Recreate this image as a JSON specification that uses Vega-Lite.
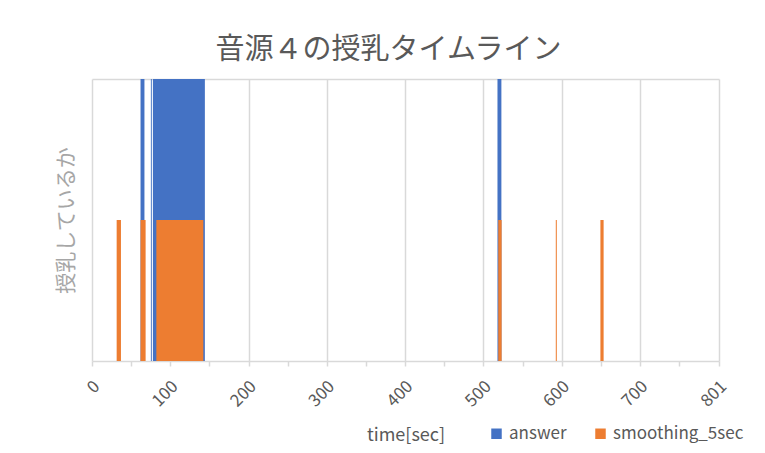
{
  "$schema": "https://vega.github.io/schema/vega-lite/v6.json",
  "width": 627,
  "height": 282,
  "autosize": {"type": "none"},
  "padding": {"left": 92, "top": 79, "right": 46, "bottom": 92},
  "background": "white",
  "config": {
    "font": "Noto Sans CJK JP",
    "view": {"stroke": null},
    "axis": {"labelFont": "Noto Sans CJK JP", "titleFont": "Noto Sans CJK JP"},
    "legend": {"labelFont": "Noto Sans CJK JP"}
  },
  "title": {
    "text": "音源４の授乳タイムライン",
    "fontSize": 29,
    "fontWeight": "normal",
    "color": "#595959",
    "anchor": "middle",
    "dx": -17,
    "offset": 14
  },
  "data": {
    "values": [
      {"series": "answer", "start": 62, "end": 67, "value": 1},
      {"series": "answer", "start": 75.2, "end": 76.4, "value": 1},
      {"series": "answer", "start": 77.8, "end": 144.2, "value": 1},
      {"series": "answer", "start": 518, "end": 523, "value": 1},
      {"series": "smoothing_5sec", "start": 31.5, "end": 37, "value": 0.5},
      {"series": "smoothing_5sec", "start": 62, "end": 68.5, "value": 0.5},
      {"series": "smoothing_5sec", "start": 82.2, "end": 142.2, "value": 0.5},
      {"series": "smoothing_5sec", "start": 519, "end": 523.3, "value": 0.5},
      {"series": "smoothing_5sec", "start": 592.5, "end": 593.8, "value": 0.5},
      {"series": "smoothing_5sec", "start": 649.5, "end": 653.6, "value": 0.5}
    ]
  },
  "mark": {"type": "rect", "stroke": null},
  "encoding": {
    "x": {
      "field": "start",
      "type": "quantitative",
      "scale": {"domain": [0, 801], "nice": false, "zero": false},
      "axis": {
        "title": "time[sec]",
        "titleFontSize": 18,
        "titleFontWeight": "normal",
        "titleColor": "#595959",
        "titleY": 79,
        "titleBaseline": "alphabetic",
        "values": [0, 50, 100, 150, 200, 250, 300, 350, 400, 450, 500, 550, 600, 650, 700, 750, 801],
        "labelExpr": "datum.value % 100 === 0 || datum.value === 801 ? datum.label : ''",
        "labelAngle": -45,
        "labelFontSize": 17,
        "labelColor": "#595959",
        "labelPadding": 12,
        "labelOffset": -1,
        "labelOverlap": false,
        "labelFlush": false,
        "format": "d",
        "domainColor": "#d9d9d9",
        "domainWidth": 1.5,
        "tickColor": "#d9d9d9",
        "tickWidth": 1.5,
        "tickSize": 5,
        "grid": true,
        "gridColor": "#d9d9d9",
        "gridWidth": 1.5,
        "gridOpacity": {"condition": {"test": "datum.value % 100 === 0 || datum.value === 801", "value": 1}, "value": 0}
      }
    },
    "x2": {"field": "end"},
    "y": {
      "field": "value",
      "type": "quantitative",
      "stack": null,
      "scale": {"domain": [0, 1], "nice": false},
      "axis": {
        "title": "授乳しているか",
        "titleFontSize": 21,
        "titleFontWeight": "normal",
        "titleColor": "#a6a6a6",
        "titlePadding": 16,
        "values": [1],
        "labels": false,
        "ticks": false,
        "domain": false,
        "grid": true,
        "gridColor": "#d9d9d9",
        "gridWidth": 1.5
      }
    },
    "y2": {"datum": 0},
    "color": {
      "field": "series",
      "type": "nominal",
      "scale": {"domain": ["answer", "smoothing_5sec"], "range": ["#4472C4", "#ED7D31"]},
      "legend": {
        "title": null,
        "orient": "none",
        "direction": "horizontal",
        "legendX": 396,
        "legendY": 346,
        "symbolType": "square",
        "symbolSize": 110,
        "symbolStrokeWidth": 0,
        "labelFontSize": 17,
        "labelColor": "#595959",
        "columnPadding": 25
      }
    }
  }
}
